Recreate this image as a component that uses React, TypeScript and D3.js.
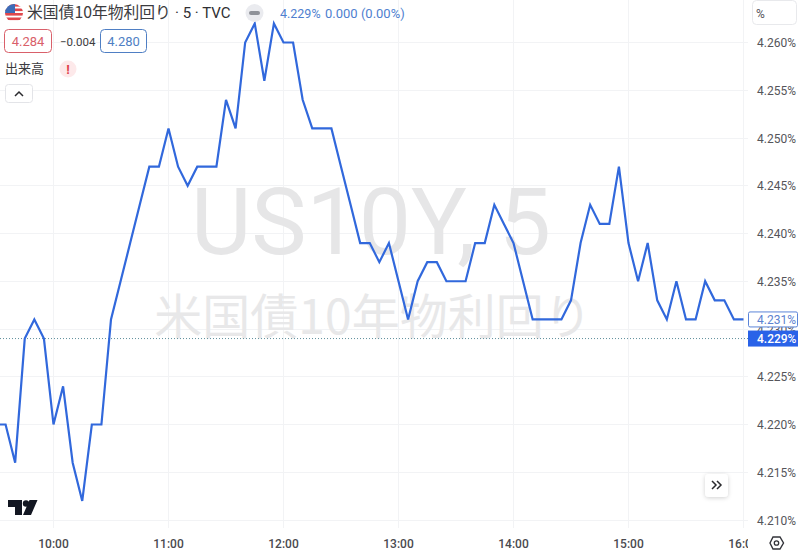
import React, { useEffect, useRef } from "react";
import * as d3 from "d3";

// 5 minute closes, first bar is 9:30
const yieldValues = [
  4.22, 4.22, 4.216, 4.229, 4.231, 4.229, 4.22, 4.224, 4.216, 4.212, 4.22, 4.22,
  4.231, 4.235, 4.239, 4.243, 4.247, 4.247, 4.251, 4.247, 4.245, 4.247, 4.247, 4.247,
  4.254, 4.251, 4.26, 4.262, 4.256, 4.262, 4.26, 4.26, 4.254, 4.251, 4.251, 4.251,
  4.247, 4.243, 4.239, 4.239, 4.237, 4.239, 4.235, 4.231, 4.235, 4.237, 4.237, 4.235,
  4.235, 4.235, 4.239, 4.239, 4.243, 4.241, 4.239, 4.235, 4.231, 4.231, 4.231, 4.231,
  4.233, 4.239, 4.243, 4.241, 4.241, 4.247, 4.239, 4.235, 4.239, 4.233, 4.231, 4.235,
  4.231, 4.231, 4.235, 4.233, 4.233, 4.231, 4.231,
];
const priceTicks = [4.21, 4.215, 4.22, 4.225, 4.23, 4.235, 4.24, 4.245, 4.25, 4.255, 4.26];
const hourTicks = [10, 11, 12, 13, 14, 15, 16];
const lastPrice = 4.231;
const closePrice = 4.229;

const WIDTH = 800;
const HEIGHT = 553;
const PANE_W = 748;
const PANE_H = 528;
const uiFont = "Roboto, 'Noto Sans CJK JP', sans-serif";
const cjkFont = "'Noto Sans CJK JP', Roboto, sans-serif";
const lineColor = "#3168dc";
const gridColor = "#f2f3f5";

const at = (h: number, m = 0) => new Date(Date.UTC(2024, 0, 2, h, m));

export default function App() {
  const ref = useRef<SVGSVGElement | null>(null);

  useEffect(() => {
    document.body.style.margin = "0";
    const svg = d3.select(ref.current);
    svg.selectAll("*").remove();

    const x = d3.scaleUtc().domain([at(10), at(16)]).range([53.5, 743.5]);
    const y = d3.scaleLinear().domain([4.21, 4.26]).range([520, 42.5]);

    svg.append("rect").attr("width", WIDTH).attr("height", HEIGHT).attr("fill", "#fff");

    const defs = svg.append("defs");
    defs.append("clipPath").attr("id", "pane").append("rect").attr("width", PANE_W).attr("height", PANE_H);
    defs.append("clipPath").attr("id", "flag").append("circle").attr("cx", 14).attr("cy", 13).attr("r", 9);
    const blur = defs.append("filter").attr("id", "btnShadow").attr("x", "-30%").attr("y", "-30%").attr("width", "160%").attr("height", "160%");
    blur.append("feDropShadow").attr("dx", 0).attr("dy", 1).attr("stdDeviation", 2).attr("flood-color", "#000").attr("flood-opacity", 0.18);

    // grid
    const grid = svg.append("g").attr("stroke", gridColor).attr("shape-rendering", "crispEdges");
    grid.selectAll("line.h").data(priceTicks).join("line").attr("class", "h")
      .attr("x1", 0).attr("x2", PANE_W).attr("y1", (d) => y(d)).attr("y2", (d) => y(d));
    grid.selectAll("line.v").data(hourTicks).join("line").attr("class", "v")
      .attr("x1", (d) => x(at(d))).attr("x2", (d) => x(at(d))).attr("y1", 0).attr("y2", PANE_H);

    // watermark
    svg.append("text").attr("x", 371).attr("y", 254).attr("text-anchor", "middle")
      .attr("font-family", uiFont).attr("font-size", 93).attr("fill", "#e6e6e7").text("US10Y, 5");
    svg.append("text").attr("x", 373).attr("y", 334).attr("text-anchor", "middle")
      .attr("font-family", cjkFont).attr("font-size", 48).attr("fill", "#e8e8e9").text("米国債10年物利回り");

    // close price line
    svg.append("line").attr("x1", 0).attr("x2", PANE_W).attr("y1", y(closePrice)).attr("y2", y(closePrice))
      .attr("stroke", "#5f8f9c").attr("stroke-dasharray", "1,2");

    // series
    const line = d3.line<number>()
      .x((_, i) => x(at(9, 30 + i * 5)))
      .y((d) => y(d));
    svg.append("path").datum(yieldValues)
      .attr("clip-path", "url(#pane)")
      .attr("fill", "none").attr("stroke", lineColor).attr("stroke-width", 2.2)
      .attr("stroke-linejoin", "miter").attr("d", line);

    // time axis
    const timeAxis = svg.append("g").attr("clip-path", "url(#timeClip)");
    defs.append("clipPath").attr("id", "timeClip").append("rect").attr("width", 748).attr("height", HEIGHT);
    timeAxis.selectAll("text").data(hourTicks).join("text")
      .attr("x", (d) => x(at(d))).attr("y", 548).attr("text-anchor", "middle")
      .attr("font-family", uiFont).attr("font-size", 12).attr("font-weight", 500).attr("fill", "#4a4a4f")
      .text((d) => d3.utcFormat("%H:%M")(at(d)));

    // price axis
    svg.append("g").selectAll("text").data(priceTicks).join("text")
      .attr("x", 757).attr("y", (d) => y(d) + 4.5)
      .attr("font-family", uiFont).attr("font-size", 12).attr("fill", "#55555a")
      .text((d) => d3.format(".3f")(d) + "%");

    svg.append("rect").attr("x", 748.5).attr("y", y(lastPrice) - 7.5).attr("width", 49).attr("height", 15).attr("rx", 1.5)
      .attr("fill", "#fff").attr("stroke", "#5b84d8");
    svg.append("text").attr("x", 757).attr("y", y(lastPrice) + 4.5)
      .attr("font-family", uiFont).attr("font-size", 12).attr("fill", "#5d82cf")
      .text(d3.format(".3f")(lastPrice) + "%");
    svg.append("rect").attr("x", 748).attr("y", y(closePrice) - 8).attr("width", 50).attr("height", 16)
      .attr("fill", "#2962e8");
    svg.append("text").attr("x", 757).attr("y", y(closePrice) + 4.5)
      .attr("font-family", uiFont).attr("font-size", 12).attr("font-weight", 500).attr("fill", "#fff")
      .text(d3.format(".3f")(closePrice) + "%");

    svg.append("rect").attr("x", 752.5).attr("y", 0.5).attr("width", 44).attr("height", 24).attr("rx", 4)
      .attr("fill", "#fff").attr("stroke", "#e8e9ec");
    svg.append("text").attr("x", 756).attr("y", 18).attr("font-family", uiFont).attr("font-size", 12).attr("fill", "#55555a").text("%");

    // legend header
    const flag = svg.append("g").attr("clip-path", "url(#flag)");
    flag.append("rect").attr("x", 5).attr("y", 4).attr("width", 18).attr("height", 18).attr("fill", "#fff");
    flag.selectAll("rect.stripe").data([4, 8.5, 13, 17.5]).join("rect").attr("class", "stripe")
      .attr("x", 5).attr("y", (d) => d).attr("width", 18).attr("height", 2.6).attr("fill", "#e0474c");
    flag.append("rect").attr("x", 5).attr("y", 4).attr("width", 10).attr("height", 9).attr("fill", "#3d6cb8");

    svg.append("text").attr("x", 27).attr("y", 18).attr("font-family", cjkFont).attr("font-size", 15.8).attr("fill", "#3c3c40")
      .text("米国債10年物利回り");
    svg.append("text").attr("x", 175).attr("y", 18).attr("font-family", uiFont).attr("font-size", 15).attr("fill", "#2f2f33")
      .text("· 5 · TVC");

    svg.append("circle").attr("cx", 254.5).attr("cy", 13).attr("r", 9).attr("fill", "#eaebef");
    svg.append("rect").attr("x", 249).attr("y", 11).attr("width", 11).attr("height", 4).attr("rx", 2).attr("fill", "#8f9299");

    svg.append("text").attr("x", 280).attr("y", 18).attr("font-family", uiFont).attr("font-size", 12.5).attr("fill", "#4f7fcf")
      .text(d3.format(".3f")(closePrice) + "%");
    svg.append("text").attr("x", 325).attr("y", 18).attr("font-family", uiFont).attr("font-size", 13).attr("fill", "#4f7fcf")
      .text("0.000 (0.00%)");

    const priceBox = (bx: number, w: number, label: string, color: string) => {
      svg.append("rect").attr("x", bx + 0.5).attr("y", 29.5).attr("width", w).attr("height", 23).attr("rx", 4)
        .attr("fill", "#fff").attr("stroke", color);
      svg.append("text").attr("x", bx + w / 2 + 0.5).attr("y", 46).attr("text-anchor", "middle")
        .attr("font-family", uiFont).attr("font-size", 13).attr("fill", color).text(label);
    };
    priceBox(4, 47, "4.284", "#d9606a");
    svg.append("text").attr("x", 60).attr("y", 46).attr("font-family", uiFont).attr("font-size", 11.5).attr("fill", "#3c3c40").text("−0.004");
    priceBox(100, 46, "4.280", "#4f7fc4");

    svg.append("text").attr("x", 5).attr("y", 73).attr("font-family", cjkFont).attr("font-size", 13).attr("fill", "#3c3c40").text("出来高");
    svg.append("circle").attr("cx", 68).attr("cy", 69).attr("r", 8.5).attr("fill", "#fde9ea");
    svg.append("text").attr("x", 68).attr("y", 74).attr("text-anchor", "middle")
      .attr("font-family", uiFont).attr("font-size", 13).attr("font-weight", 700).attr("fill", "#e0434c").text("!");

    svg.append("rect").attr("x", 5.5).attr("y", 84.5).attr("width", 27).attr("height", 18).attr("rx", 3)
      .attr("fill", "#fff").attr("stroke", "#e3e4e8");
    svg.append("path").attr("d", "M15 96 L19 92 L23 96").attr("fill", "none").attr("stroke", "#2a2a2e").attr("stroke-width", 1.5);

    // scroll button
    svg.append("rect").attr("x", 705).attr("y", 474).attr("width", 23).attr("height", 23).attr("rx", 4)
      .attr("fill", "#fff").attr("filter", "url(#btnShadow)");
    svg.append("path").attr("d", "M712 481 L716 485 L712 489 M717 481 L721 485 L717 489")
      .attr("fill", "none").attr("stroke", "#2a2a2e").attr("stroke-width", 1.5);

    // TV logo
    svg.append("path").attr("fill", "#131722")
      .attr("d", "M8 500 H22 V515 H15 V507 H8 Z M37.5 500 L31 515 H23 L29.5 500 Z");
    svg.append("circle").attr("cx", 26).attr("cy", 503.5).attr("r", 3.2).attr("fill", "#131722");

    // settings icon
    svg.append("path").attr("fill", "none").attr("stroke", "#33343a").attr("stroke-width", 1.4)
      .attr("d", "M770 543 L773 537 H780 L783.5 543 L780 549 H773 Z");
    svg.append("circle").attr("cx", 776.5).attr("cy", 543).attr("r", 2.2).attr("fill", "none").attr("stroke", "#33343a").attr("stroke-width", 1.3);
  }, []);

  return (
    <svg
      ref={ref}
      width={WIDTH}
      height={HEIGHT}
      style={{ display: "block", position: "absolute", left: 0, top: 0 }}
    />
  );
}
